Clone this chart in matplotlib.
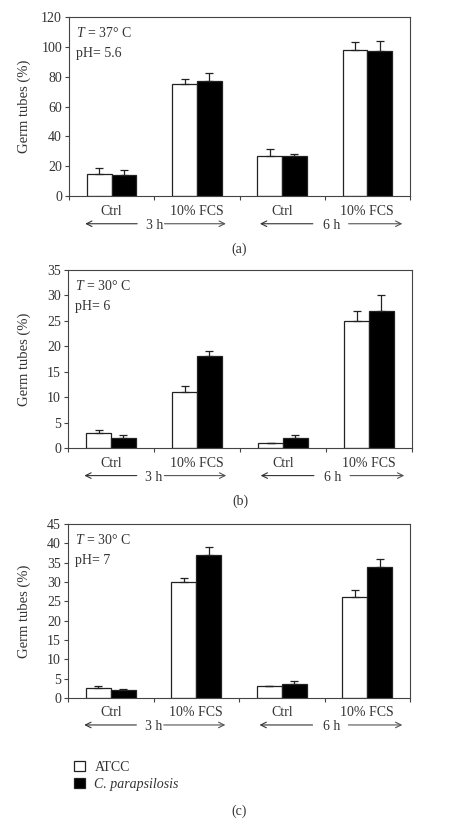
import matplotlib
matplotlib.use("Agg")
import numpy as np
import matplotlib.pyplot as plt
from matplotlib.patches import Patch
from matplotlib.transforms import blended_transform_factory

plt.rcParams['font.family'] = ['Liberation Serif', 'DejaVu Serif']
plt.rcParams['mathtext.fontset'] = 'custom'
plt.rcParams['mathtext.rm'] = 'Liberation Serif'
plt.rcParams['mathtext.it'] = 'Liberation Serif:italic'

categories = ['Ctrl', '10% FCS', 'Ctrl', '10% FCS']
times = ['3 h', '6 h']
series = ['ATCC', 'C. parapsilosis']

# panel (a): T = 37 C, pH 5.6
a_atcc = [15, 75, 27, 98]
a_atcc_err = [3.8, 3.4, 4.4, 5]
a_cpar = [14, 77.2, 27, 97]
a_cpar_err = [3.2, 5, 0.9, 7]

# panel (b): T = 30 C, pH 6
b_atcc = [3, 11, 1, 25]
b_atcc_err = [0.5, 1.1, 0, 2]
b_cpar = [2, 18, 2, 27]
b_cpar_err = [0.5, 1.1, 0.5, 3]

# panel (c): T = 30 C, pH 7
c_atcc = [2.5, 30, 3, 26]
c_atcc_err = [0.6, 1.1, 0, 2]
c_cpar = [2, 37, 3.5, 34]
c_cpar_err = [0.4, 2, 1, 2]

panels = [
    dict(atcc=a_atcc, ae=a_atcc_err, cpar=a_cpar, ce=a_cpar_err, ymax=120, step=20,
         temp='37', ph='5.6', tag='(a)', tag_y=-0.3, rect=[69/449, 1-196/824, 341/449, 179/824]),
    dict(atcc=b_atcc, ae=b_atcc_err, cpar=b_cpar, ce=b_cpar_err, ymax=35, step=5,
         temp='30', ph='6', tag='(b)', tag_y=-0.3, rect=[68/449, 1-448/824, 344/449, 178/824]),
    dict(atcc=c_atcc, ae=c_atcc_err, cpar=c_cpar, ce=c_cpar_err, ymax=45, step=5,
         temp='30', ph='7', tag='(c)', tag_y=-0.65, rect=[68/449, 1-698/824, 342/449, 174/824]),
]

txt = '#333333'
fig = plt.figure(figsize=(4.49, 8.24), dpi=100)
x = np.arange(1, 5)
w = 0.29

for p in panels:
    ax = fig.add_axes(p['rect'])
    n = len(p['atcc'])
    ekw = dict(ecolor='#222222', elinewidth=0.9, capsize=3, capthick=0.9)
    ax.bar(x - w/2, p['atcc'], w, color='white', edgecolor='#222222', linewidth=0.9,
           yerr=[np.zeros(n), p['ae']], error_kw=ekw)
    ax.bar(x + w/2, p['cpar'], w, color='black', edgecolor='#222222', linewidth=0.9,
           yerr=[np.zeros(n), p['ce']], error_kw=ekw)
    ax.set_xlim(0.5, 4.5)
    ax.set_ylim(0, p['ymax'])
    ax.set_yticks(np.arange(0, p['ymax'] + 1, p['step']))
    ax.set_xticks([0.5, 1.5, 2.5, 3.5, 4.5])
    ax.set_xticklabels([])
    ax.tick_params(axis='both', direction='out', length=3, width=0.8, colors='#444444',
                   labelsize=10, labelcolor=txt, pad=2)
    for s in ax.spines.values():
        s.set_color('#444444')
        s.set_linewidth(0.8)
    ax.set_ylabel('Germ tubes (%)', fontsize=10.5, color=txt)
    ax.yaxis.set_label_coords(31/449, 0.5, transform=blended_transform_factory(fig.transFigure, ax.transAxes))
    ax.text(0.02, 0.95, r'$T$ = ' + p['temp'] + '° C', transform=ax.transAxes,
            fontsize=10, color=txt, va='top')
    ax.text(0.02, 0.83, 'pH= ' + p['ph'], transform=ax.transAxes,
            fontsize=10, color=txt, va='top')
    tr = ax.get_xaxis_transform()
    for xi, c in zip(x, categories):
        ax.text(xi, -0.085, c, transform=tr, ha='center', va='center', fontsize=10, color=txt)
    # time arrows
    for t, tx, l0, l1, r0, r1 in [(times[0], 1.5, 0.69, 1.30, 1.62, 2.34),
                                  (times[1], 3.58, 2.74, 3.36, 3.78, 4.41)]:
        yy = -0.155
        ax.text(tx, yy - 0.008, t, transform=tr, ha='center', va='center', fontsize=10, color=txt)
        ax.annotate('', xy=(l0, yy), xytext=(l1, yy), xycoords=tr, textcoords=tr,
                    arrowprops=dict(arrowstyle='->', color='#333333', lw=0.8,
                                    shrinkA=0, shrinkB=0, mutation_scale=10),
                    annotation_clip=False)
        ax.annotate('', xy=(r1, yy), xytext=(r0, yy), xycoords=tr, textcoords=tr,
                    arrowprops=dict(arrowstyle='->', color='#555555', lw=0.8,
                                    shrinkA=0, shrinkB=0, mutation_scale=10),
                    annotation_clip=False)
    ax.text(0.5, p['tag_y'], p['tag'], transform=ax.transAxes, ha='center', va='center',
            fontsize=10, color=txt)

handles = [Patch(facecolor='white', edgecolor='#222222', linewidth=0.9),
           Patch(facecolor='black', edgecolor='#222222', linewidth=0.9)]
leg = fig.legend(handles, series, loc='upper left', bbox_to_anchor=(68/449, 1-755/824),
                 frameon=False, fontsize=10, handlelength=0.8, handleheight=0.8,
                 handletextpad=0.7, labelspacing=0.3, borderaxespad=0)
for t in leg.get_texts():
    t.set_color(txt)
leg.get_texts()[1].set_style('italic')

fig.savefig('out.png', dpi=100)
